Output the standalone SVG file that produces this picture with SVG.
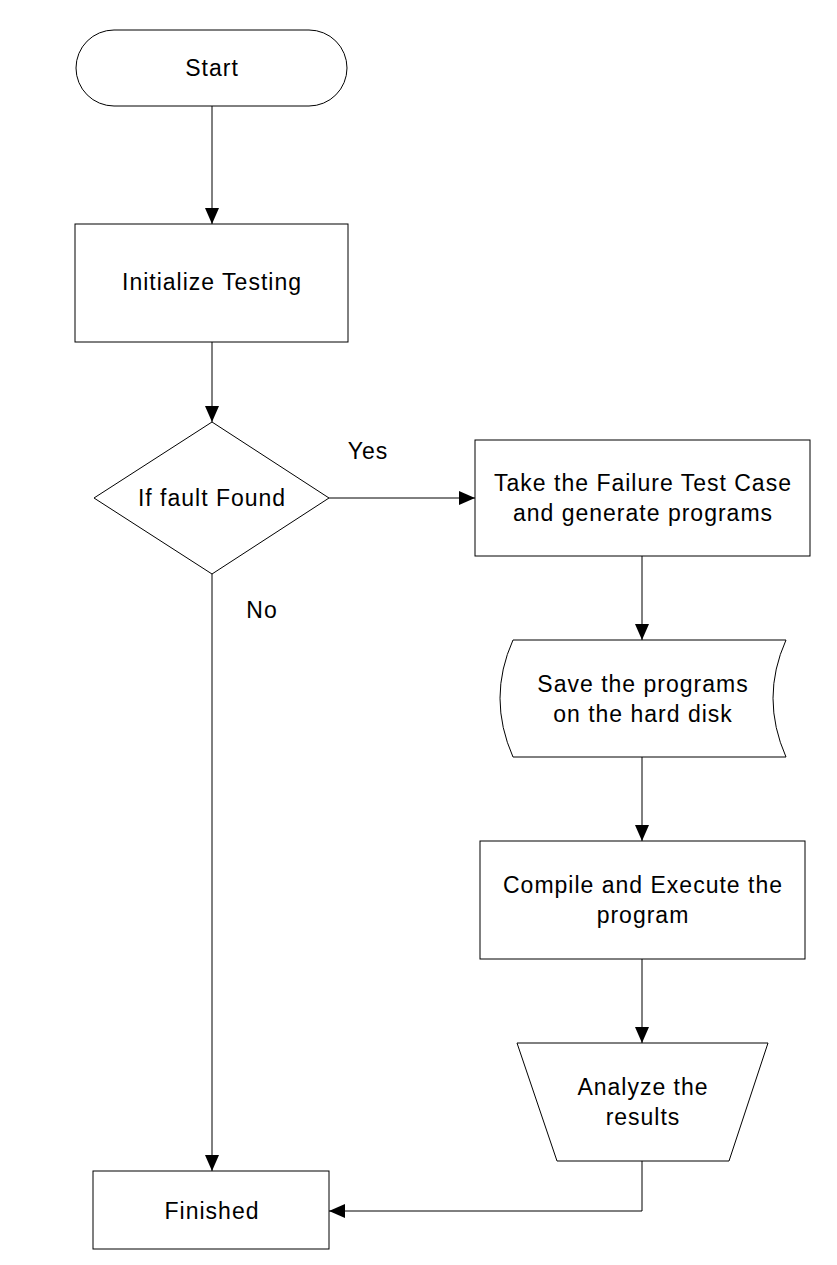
<svg xmlns="http://www.w3.org/2000/svg" width="837" height="1265" viewBox="0 0 837 1265">
<style>
.s{fill:#fff;stroke:#000;stroke-width:1}
.t{font-family:"Liberation Sans",Arial,sans-serif;font-size:23px;letter-spacing:1px;fill:#000;text-anchor:middle}
.c{fill:none;stroke:#000;stroke-width:1}
</style>
<defs>
<marker id="a" markerWidth="16" markerHeight="14" refX="16" refY="7" orient="auto" markerUnits="userSpaceOnUse">
<path d="M0,0 L16,7 L0,14 Z" fill="#000"/>
</marker>
</defs>
<rect width="837" height="1265" fill="#fff"/>
<g id="connectors">
<line class="c" x1="212" y1="106" x2="212" y2="224" marker-end="url(#a)"/>
<line class="c" x1="212" y1="342" x2="212" y2="422" marker-end="url(#a)"/>
<line class="c" x1="329" y1="498" x2="475" y2="498" marker-end="url(#a)"/>
<line class="c" x1="212" y1="574" x2="212" y2="1171" marker-end="url(#a)"/>
<line class="c" x1="642" y1="556" x2="642" y2="640" marker-end="url(#a)"/>
<line class="c" x1="642" y1="757" x2="642" y2="841" marker-end="url(#a)"/>
<line class="c" x1="642" y1="959" x2="642" y2="1043" marker-end="url(#a)"/>
<polyline class="c" points="642,1161 642,1211 329,1211" marker-end="url(#a)"/>
<text class="t" x="368" y="459">Yes</text>
<text class="t" x="262" y="618">No</text>
</g>
<g id="start">
<rect class="s" x="76" y="30" width="271" height="76" rx="38" ry="38"/>
<text class="t" x="212" y="76">Start</text>
</g>
<g id="init">
<rect class="s" x="75" y="224" width="273" height="118"/>
<text class="t" x="212" y="290">Initialize Testing</text>
</g>
<g id="decision">
<polygon class="s" points="212,422 329,498 212,574 94,498"/>
<text class="t" x="212" y="506">If fault Found</text>
</g>
<g id="take">
<rect class="s" x="475" y="440" width="335" height="116"/>
<text class="t" x="643" y="491">Take the Failure Test Case</text>
<text class="t" x="643" y="521">and generate programs</text>
</g>
<g id="save">
<path class="s" d="M513,640 L786,640 Q760,698 786,757 L513,757 Q487,698 513,640 Z"/>
<text class="t" x="643" y="692">Save the programs</text>
<text class="t" x="643" y="722">on the hard disk</text>
</g>
<g id="compile">
<rect class="s" x="480" y="841" width="325" height="118"/>
<text class="t" x="643" y="893">Compile and Execute the</text>
<text class="t" x="643" y="923">program</text>
</g>
<g id="analyze">
<polygon class="s" points="517,1043 768,1043 729,1161 557,1161"/>
<text class="t" x="643" y="1095">Analyze the</text>
<text class="t" x="643" y="1125">results</text>
</g>
<g id="finished">
<rect class="s" x="93" y="1171" width="236" height="78"/>
<text class="t" x="212" y="1219">Finished</text>
</g>
</svg>
